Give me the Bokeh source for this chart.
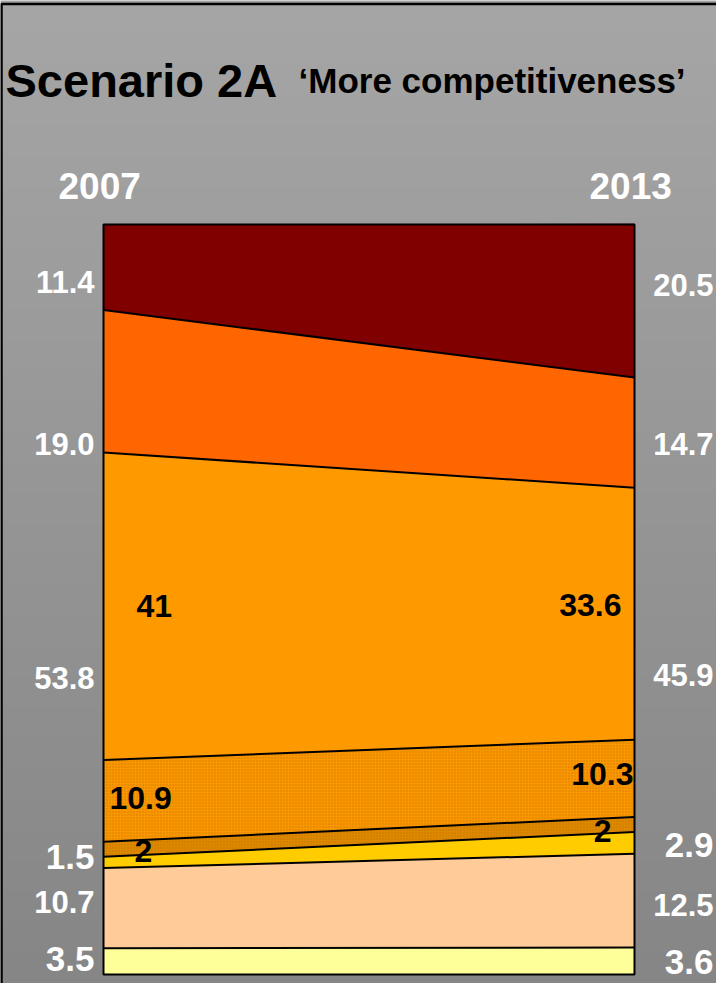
import numpy as np
from bokeh.plotting import figure
from bokeh.models import Range1d
from bokeh.embed import file_html
from bokeh.resources import INLINE
from bokeh.core.properties import value

# ---------------- data ----------------
years = ["2007", "2013"]
# layers from bottom to top
layer_2007 = [3.5, 10.7, 1.5, 2, 10.9, 41, 19.0, 11.4]
layer_2013 = [3.6, 12.5, 2.9, 2, 10.3, 33.6, 14.7, 20.5]
layer_colors = ["#FFFF99", "#FFCC99", "#FFCC00", "#DE8800", "#FA9600",
                "#FF9900", "#FF6600", "#800000"]
layer_dotted = [False, False, False, True, True, False, False, False]
# group totals shown in white at the sides (bottom to top)
group_2007 = ["3.5", "10.7", "1.5", "53.8", "19.0", "11.4"]
group_2013 = ["3.6", "12.5", "2.9", "45.9", "14.7", "20.5"]
group_layers = [[0], [1], [2], [3, 4, 5], [6], [7]]
# inner (black) labels for the sub-layers of the big group
inner_layers = [3, 4, 5]
inner_2007 = ["2", "10.9", "41"]
inner_2013 = ["2", "10.3", "33.6"]

title_main = "Scenario 2A"
title_sub = "\u2018More competitiveness\u2019"

# ---------------- layout helpers (reference pixel -> data) ----------------
X0_PX, X1_PX = 111, 642       # plot edges for the two years
Y0_PX, PX_PER_UNIT = 982, 7.5  # baseline of 0% and scale
W, H = 716, 983


def dx(px):
    return (px - X0_PX) / (X1_PX - X0_PX)


def dy(py):
    return (Y0_PX - py) / PX_PER_UNIT


FONT = value("Liberation Sans")

p = figure(width=W, height=H, output_backend="svg", toolbar_location=None,
           x_axis_location=None, y_axis_location=None, min_border=0,
           x_range=Range1d(dx(8), dx(8 + W)), y_range=Range1d(dy(8 + H), dy(8)))
p.grid.visible = False
p.outline_line_color = None
p.background_fill_color = "#a2a2a2"
p.border_fill_color = "#a2a2a2"

# background gradient inside the frame
N = 256
img = np.empty((N, 1), dtype=np.uint32)
view = img.view(dtype=np.uint8).reshape((N, 1, 4))
t = np.linspace(0.0, 1.0, N)  # 0 bottom -> 1 top
g = (0x86 + (0xA6 - 0x86) * t).astype(np.uint8)
view[:, 0, 0] = g
view[:, 0, 1] = g
view[:, 0, 2] = g
view[:, 0, 3] = 255
p.image_rgba(image=[img], x=dx(8), y=dy(8 + H), dw=dx(8 + W) - dx(8),
             dh=dy(11) - dy(8 + H))
# frame border
p.line(x=[dx(9), dx(9), dx(8 + W)], y=[dy(8 + H), dy(11.5), dy(11.5)],
       line_color="black", line_width=2.5)

# ---------------- stacked areas ----------------
xs = [0, 1]
cum07 = np.concatenate([[0], np.cumsum(layer_2007)])
cum13 = np.concatenate([[0], np.cumsum(layer_2013)])
for i, col in enumerate(layer_colors):
    kw = {}
    if layer_dotted[i]:
        kw = dict(hatch_pattern="dot", hatch_color="#B06800", hatch_scale=3,
                  hatch_weight=1, hatch_alpha=0.55)
    p.varea(x=xs, y1=[cum07[i], cum13[i]], y2=[cum07[i + 1], cum13[i + 1]],
            fill_color=col, **kw)

# boundaries between layers
p.multi_line(xs=[xs] * (len(layer_2007) - 1),
             ys=[[cum07[i], cum13[i]] for i in range(1, len(layer_2007))],
             line_color="black", line_width=2)
# plot outline
p.quad(left=0, right=1, bottom=0, top=100, fill_color=None,
       line_color="black", line_width=2)

# ---------------- texts ----------------
# titles
p.text(x=[dx(13)], y=[dy(88)], text=[title_main], text_font=FONT,
       text_font_style="bold", text_font_size="47px", text_color="black",
       text_baseline="alphabetic", text_align="left")
p.text(x=[dx(306)], y=[dy(88)], text=[title_sub], text_font=FONT,
       text_font_style="bold", text_font_size="35px", text_color="black",
       text_baseline="alphabetic", text_align="left")
# years
p.text(x=[dx(66), dx(597)], y=[dy(193), dy(193)], text=years, text_font=FONT,
       text_font_style="bold", text_font_size="37px", text_color="white",
       text_baseline="alphabetic", text_align="left")


def group_mid(cum, idx):
    return (cum[idx[0]] + cum[idx[-1] + 1]) / 2


# vertical nudges of the side labels (data units)
nudge_l = [0.35, 0.85, 0.75, -3.05, -8.3, -2.0]
nudge_r = [-0.1, -0.55, -0.25, -1.95, -1.55, 2.15]
big = [True, False, True, False, False, False]

for side, labels, cum, nudges, xpos in [
        ("l", group_2007, cum07, nudge_l, dx(102)),
        ("r", group_2013, cum13, nudge_r, dx(721))]:
    for k, lab in enumerate(labels):
        p.text(x=[xpos], y=[group_mid(cum, group_layers[k]) + nudges[k]],
               text=[lab], text_font=FONT, text_font_style="bold",
               text_font_size="35px" if big[k] else "31px",
               text_color="white", text_align="right", text_baseline="middle")

# inner labels
in_x07 = [dx(142), dx(117), dx(144)]
in_x13 = [dx(619), dx(641), dx(629)]
in_nudge07 = [-0.2, 0.35, 0.0]
in_nudge13 = [-0.8, 0.55, 1.2]
for k, li in enumerate(inner_layers):
    p.text(x=[in_x07[k]], y=[(cum07[li] + cum07[li + 1]) / 2 + in_nudge07[k]],
           text=[inner_2007[k]], text_font=FONT, text_font_style="bold",
           text_font_size="32px", text_color="black", text_align="left",
           text_baseline="middle")
    p.text(x=[in_x13[k]], y=[(cum13[li] + cum13[li + 1]) / 2 + in_nudge13[k]],
           text=[inner_2013[k]], text_font=FONT, text_font_style="bold",
           text_font_size="32px", text_color="black", text_align="right",
           text_baseline="middle")

open("out.html", "w").write(file_html(p, INLINE))
